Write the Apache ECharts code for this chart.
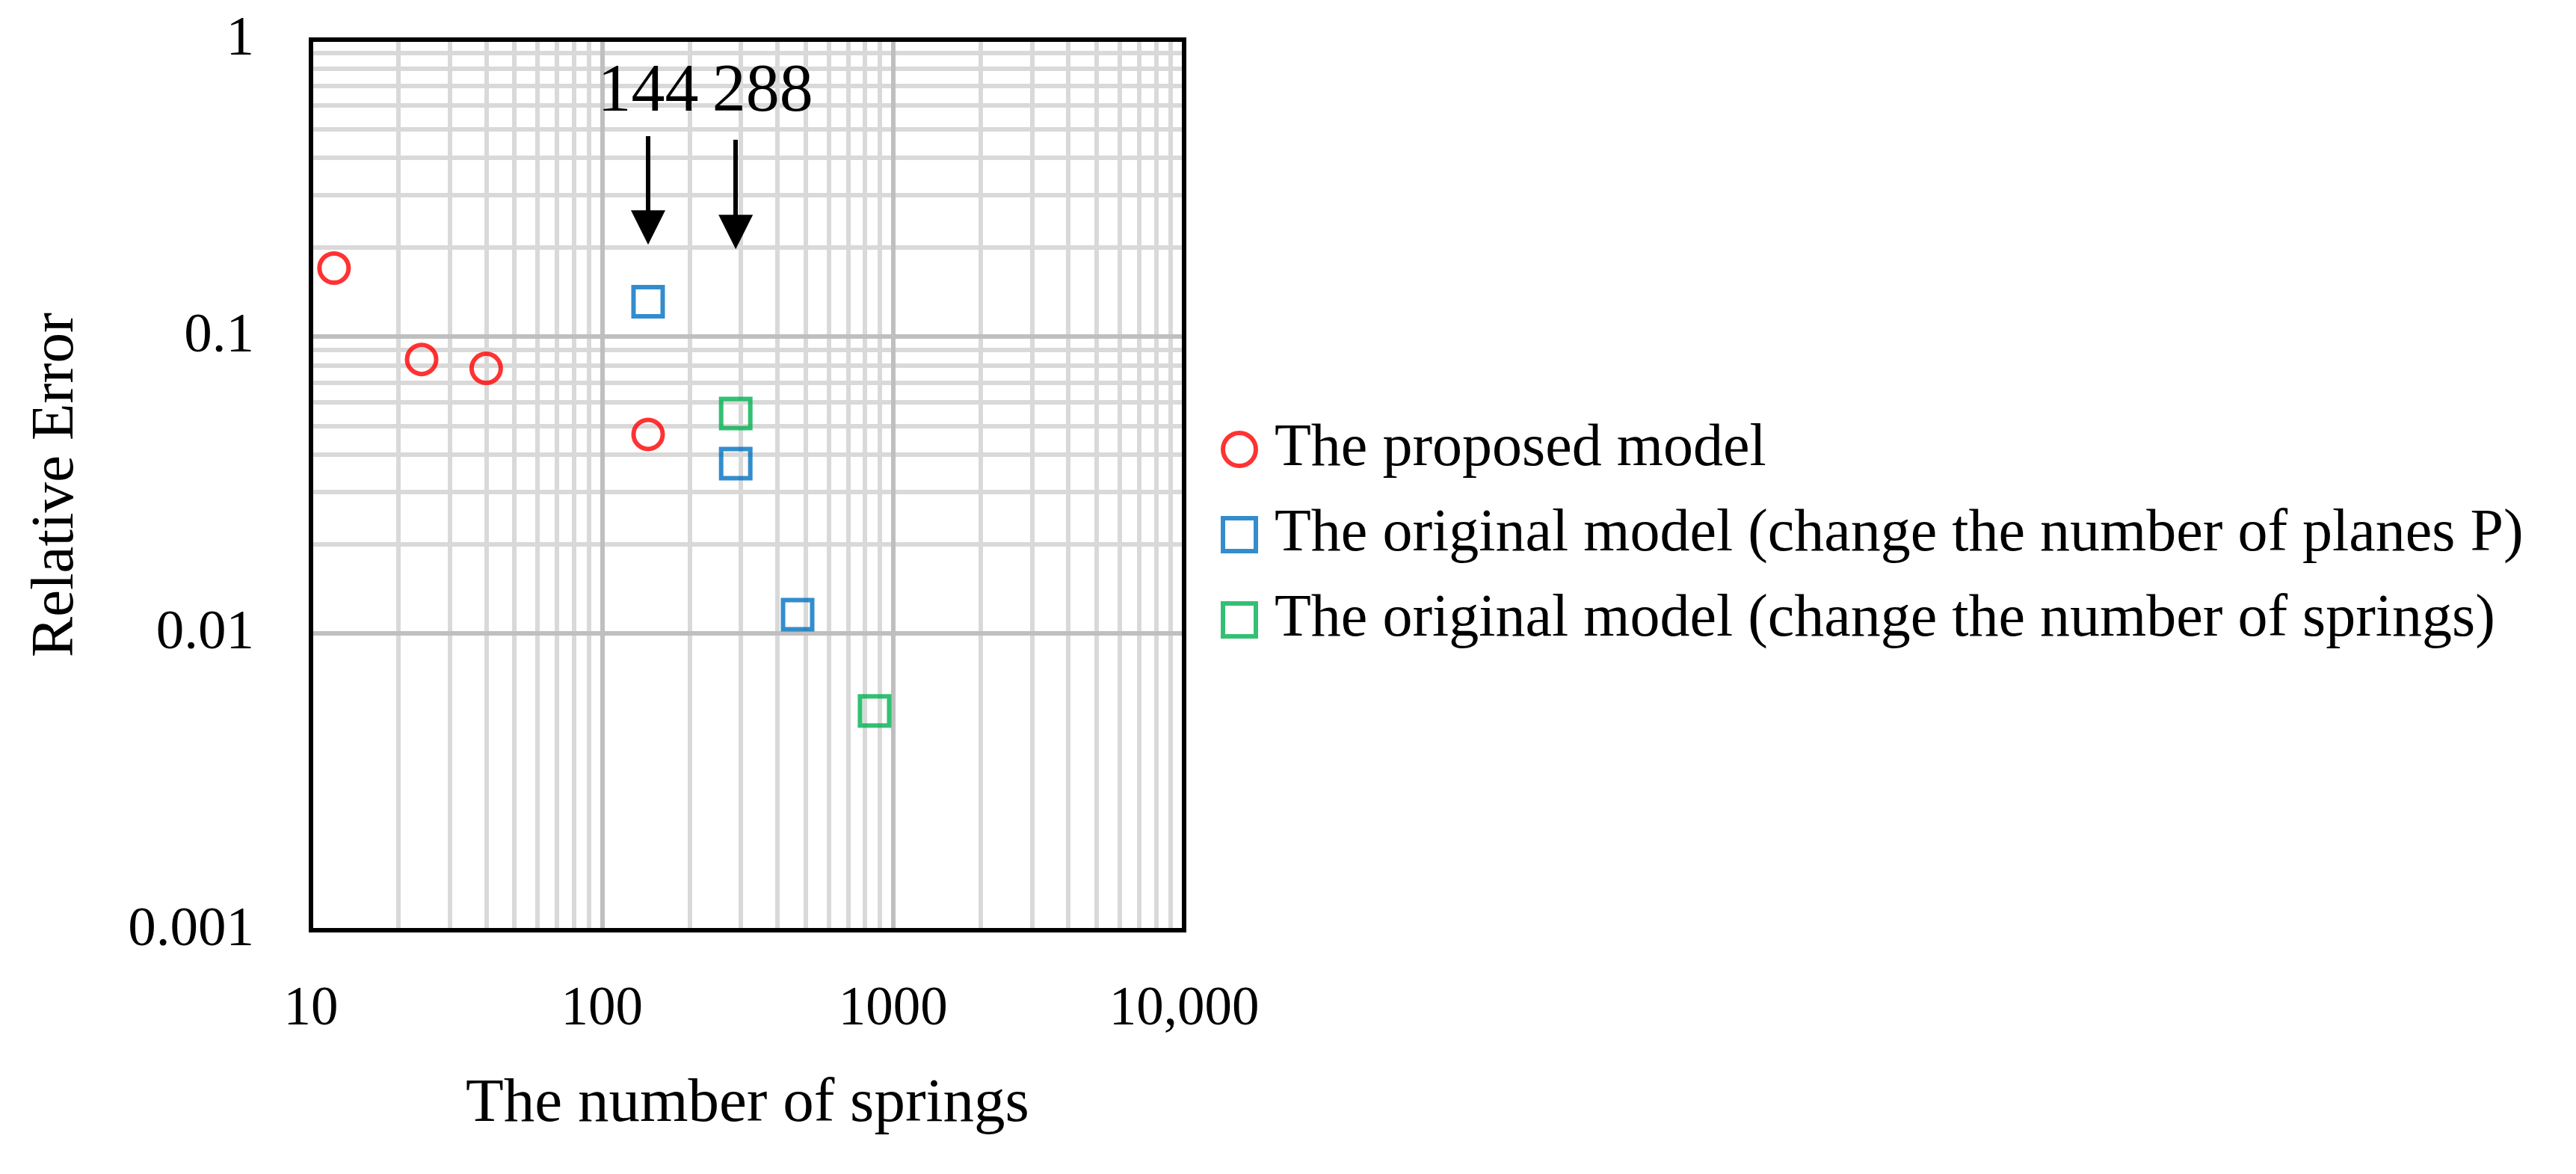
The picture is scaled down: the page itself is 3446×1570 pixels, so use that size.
<!DOCTYPE html>
<html lang="en">
<head>
<meta charset="utf-8">
<title>Relative Error vs number of springs</title>
<script src="https://cdn.jsdelivr.net/npm/echarts@6/dist/echarts.min.js"></script>
<style>
  html, body { margin: 0; padding: 0; background: #fff; }
</style>
</head>
<body>
	<div id="main" style="width: 3446px;height:1570px;"></div>
	<script type="text/javascript">
		// values
		var seriesNames = [
			'The proposed model',
			'The original model (change the number of planes P)',
			'The original model (change the number of springs)'
		]
		var proposed = [[12, 0.170], [24, 0.0837], [40, 0.0781], [144, 0.0468]]
		var originalPlanes = [[144, 0.131], [288, 0.0373], [470, 0.01156]]
		var originalSprings = [[288, 0.0550], [864, 0.00548]]

		var xTickLabels = ['10', '100', '1000', '10,000']
		var yTickLabels = ['0.001', '0.01', '0.1', '1']

		// grid lines (values)
		var xMajor = [100, 1000]
		var yMajor = [0.01, 0.1]
		var xMinor = [20, 30, 40, 50, 60, 70, 80, 90, 200, 300, 400, 500, 600, 700, 800, 900,
			2000, 3000, 4000, 5000, 6000, 7000, 8000, 9000]
		var yMinor = [0.002, 0.003, 0.004, 0.005, 0.006, 0.007, 0.008, 0.009,
			0.02, 0.03, 0.04, 0.05, 0.06, 0.07, 0.08, 0.09,
			0.2, 0.3, 0.4, 0.5, 0.6, 0.7, 0.8, 0.9]

		// arrows: [x, y start, y end], and their labels
		var arrows = [[144, 0.473, 0.233], [288, 0.46, 0.225]]
		var arrowTexts = ['144', '288']
		var arrowTextY = 0.66

		var font = 'Liberation Serif'
		var minorColor = '#d9d9d9'
		var majorColor = '#bfbfbf'

		var gridLines = []
		xMinor.forEach(function (v) { gridLines.push({xAxis: v, lineStyle: {color: minorColor}}) })
		yMinor.forEach(function (v) { gridLines.push({yAxis: v, lineStyle: {color: minorColor}}) })
		xMajor.forEach(function (v) { gridLines.push({xAxis: v, lineStyle: {color: majorColor}}) })
		yMajor.forEach(function (v) { gridLines.push({yAxis: v, lineStyle: {color: majorColor}}) })

		function logAxis(extra) {
			var ax = {
				type: 'log',
				logBase: 10,
				gridIndex: 0,
				z: 10,
				axisLine: {show: true, onZero: false, lineStyle: {color: '#000', width: 6, cap: 'square'}},
				axisTick: {show: false},
				splitLine: {show: false},
				axisLabel: {show: false}
			}
			for (var k in extra) ax[k] = extra[k]
			return ax
		}

		function scatter(name, data, symbol, color) {
			return {
				name: name,
				type: 'scatter',
				symbol: symbol,
				symbolSize: 39,
				z: 5,
				data: data,
				itemStyle: {color: 'rgba(0,0,0,0)', borderColor: color, borderWidth: 6}
			}
		}

		var myChart = echarts.init(document.getElementById('main'))
		var option = {
			animation: false,
			backgroundColor: '#fff',
			textStyle: {fontFamily: font, color: '#000'},
			grid: {left: 416, top: 53, right: 1862, bottom: 326},
			legend: {
				orient: 'vertical',
				left: 1628,
				top: 552,
				itemWidth: 44,
				itemHeight: 44,
				itemGap: 26,
				data: seriesNames,
				itemStyle: {borderWidth: 6},
				textStyle: {fontFamily: font, fontSize: 80, color: '#000', lineHeight: 88, padding: [0, 0, 0, 20]}
			},
			xAxis: [
				logAxis({
					min: 10, max: 10000, position: 'bottom',
					name: 'The number of springs', nameLocation: 'middle', nameGap: 192,
					nameTextStyle: {fontFamily: font, fontSize: 83, color: '#000'},
					axisLabel: {
						show: true, margin: 70, fontFamily: font, fontSize: 73, color: '#000',
						formatter: function (v) { return xTickLabels[Math.round(Math.log10(v)) - 1] }
					}
				}),
				logAxis({min: 10, max: 10000, position: 'top'})
			],
			yAxis: [
				logAxis({
					min: 0.001, max: 1, position: 'left',
					name: 'Relative Error', nameLocation: 'middle', nameGap: 300, nameRotate: 90,
					nameTextStyle: {fontFamily: font, fontSize: 81, color: '#000'},
					axisLabel: {
						show: true, margin: 76, fontFamily: font, fontSize: 75, color: '#000',
						formatter: function (v) { return yTickLabels[Math.round(Math.log10(v)) + 3] }
					}
				}),
				logAxis({min: 0.001, max: 1, position: 'right'})
			],
			series: [
				{
					name: 'grid',
					type: 'scatter',
					data: [],
					z: 1,
					silent: true,
					markLine: {
						silent: true,
						symbol: 'none',
						label: {show: false},
						lineStyle: {type: 'solid', width: 6},
						data: gridLines
					}
				},
				{
					name: 'arrows',
					type: 'scatter',
					data: [],
					z: 6,
					silent: true,
					markLine: {
						silent: true,
						symbol: ['none', 'triangle'],
						symbolSize: 46,
						label: {show: false},
						lineStyle: {type: 'solid', width: 6, color: '#000'},
						data: arrows.map(function (a) {
							return [{coord: [a[0], a[1]]}, {coord: [a[0], a[2]]}]
						})
					},
					markPoint: {
						silent: true,
						symbol: 'circle',
						symbolSize: 0,
						label: {show: true, position: 'inside', fontFamily: font, fontSize: 90, color: '#000'},
						data: arrows.map(function (a, i) {
							return {
								coord: [a[0], arrowTextY],
								value: arrowTexts[i],
								label: {formatter: arrowTexts[i], offset: [i === 0 ? 0 : 36, 0]}
							}
						})
					}
				},
				scatter(seriesNames[0], proposed, 'circle', '#ff0000'),
				scatter(seriesNames[1], originalPlanes, 'rect', '#0070c0'),
				scatter(seriesNames[2], originalSprings, 'rect', '#00b050')
			]
		}
		myChart.setOption(option)
	</script>
</body>
</html>
